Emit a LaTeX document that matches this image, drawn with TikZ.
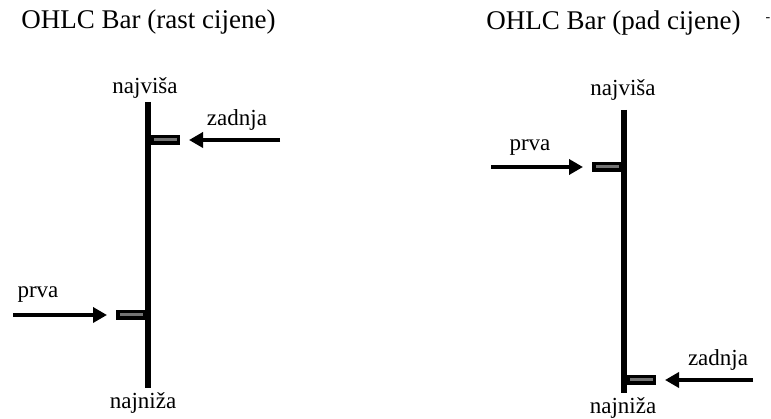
\documentclass[tikz,border=0pt]{standalone}
\usepackage{fontspec}
\setmainfont{Liberation Serif}
\usepackage{tikz}
\usetikzlibrary{arrows.meta}

\begin{document}
\begin{tikzpicture}[x=1pt, y=-1pt,
    title/.style={font=\fontsize{27}{29}\selectfont, inner sep=0pt},
    label/.style={font=\fontsize{23}{25}\selectfont, inner sep=0pt},
    bar/.style={line width=6pt},
    tick/.style={rectangle, draw=black, fill=black!55, line width=3.5pt, minimum width=26.5pt, minimum height=6.5pt, inner sep=0pt},
    pointer/.style={line width=4pt, -{Triangle[length=14pt, width=15pt]}, shorten >=9pt},
]
    \useasboundingbox (0,0) rectangle (771,419);

    % Rising bar
    \node[title] (titleup) at (148.5, 22) {OHLC Bar (rast cijene)};
    \coordinate (uphigh) at (148, 102);
    \coordinate (uplow) at (148, 388);
    \draw[bar] (uphigh) -- (uplow);
    \node[label] (uphighlbl) at (145, 88) {najviša};
    \node[label] (uplowlbl) at (143, 403) {najniža};
    \node[tick, anchor=west] (upclose) at (150, 140) {};
    \node[tick, anchor=east] (upopen) at (146, 315) {};
    \coordinate (upclosestart) at (280, 140);
    \coordinate (upopenstart) at (13, 315);
    \draw[pointer] (upclosestart) -- (upclose.east);
    \draw[pointer] (upopenstart) -- (upopen.west);
    \node[label] (upcloselbl) at (237, 120) {zadnja};
    \node[label] (upopenlbl) at (38, 295) {prva};

    % Falling bar
    \node[title] (titledown) at (613.5, 23) {OHLC Bar (pad cijene)};
    \node[font=\fontsize{14}{16}\selectfont, inner sep=0pt] (dash) at (768, 20) {-};
    \coordinate (downhigh) at (624, 110);
    \coordinate (downlow) at (624, 393);
    \draw[bar] (downhigh) -- (downlow);
    \node[label] (downhighlbl) at (623, 90) {najviša};
    \node[label] (downlowlbl) at (623, 408) {najniža};
    \node[tick, anchor=east] (downopen) at (622, 167) {};
    \node[tick, anchor=west] (downclose) at (626, 380) {};
    \coordinate (downopenstart) at (491, 167);
    \coordinate (downclosestart) at (753, 380);
    \draw[pointer] (downopenstart) -- (downopen.west);
    \draw[pointer] (downclosestart) -- (downclose.east);
    \node[label] (downopenlbl) at (530, 148) {prva};
    \node[label] (downcloselbl) at (718, 360) {zadnja};
\end{tikzpicture}
\end{document}
